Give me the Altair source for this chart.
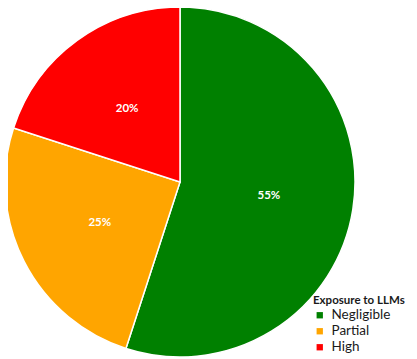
import altair as alt
import pandas as pd

categories = ["Negligible", "Partial", "High"]
values = [55, 25, 20]
labels = ["55%", "25%", "20%"]
colors = ["#008000", "#FFA500", "#FF0000"]

df = pd.DataFrame({
    "category": categories,
    "value": values,
    "label": labels,
    "order": list(range(len(categories))),
})

cx, cy, R = 172, 174, 175

base = alt.Chart(df).encode(
    theta=alt.Theta("value:Q", stack=True),
    order=alt.Order("order:Q"),
    x=alt.value(cx),
    y=alt.value(cy),
)

pie = base.mark_arc(radius=R, stroke="white", strokeWidth=1.5).encode(
    color=alt.Color(
        "category:N",
        scale=alt.Scale(domain=categories, range=colors),
        legend=alt.Legend(
            title="Exposure to LLMs",
            orient="none",
            legendX=305,
            legendY=287,
            symbolType="square",
            symbolSize=40,
            symbolStrokeWidth=0,
            titleFont="Lato",
            titleFontSize=11.5,
            titleFontWeight="bold",
            titleColor="#1a1a1a",
            titlePadding=2,
            titleLimit=200,
            labelFont="Lato",
            labelFontSize=13.5,
            labelColor="#1a1a1a",
            rowPadding=1,
            labelOffset=5,
        ),
    )
)

text = base.mark_text(
    radius=90, font="Lato", fontSize=11.5, fontWeight="bold", color="white"
).encode(text="label:N")

chart = (
    (pie + text)
    .properties(width=401, height=351, autosize=alt.AutoSizeParams(type="none"), padding=0)
    .configure_view(stroke=None)
)

chart.save("out.html", embed_options={"renderer": "svg", "actions": False})
